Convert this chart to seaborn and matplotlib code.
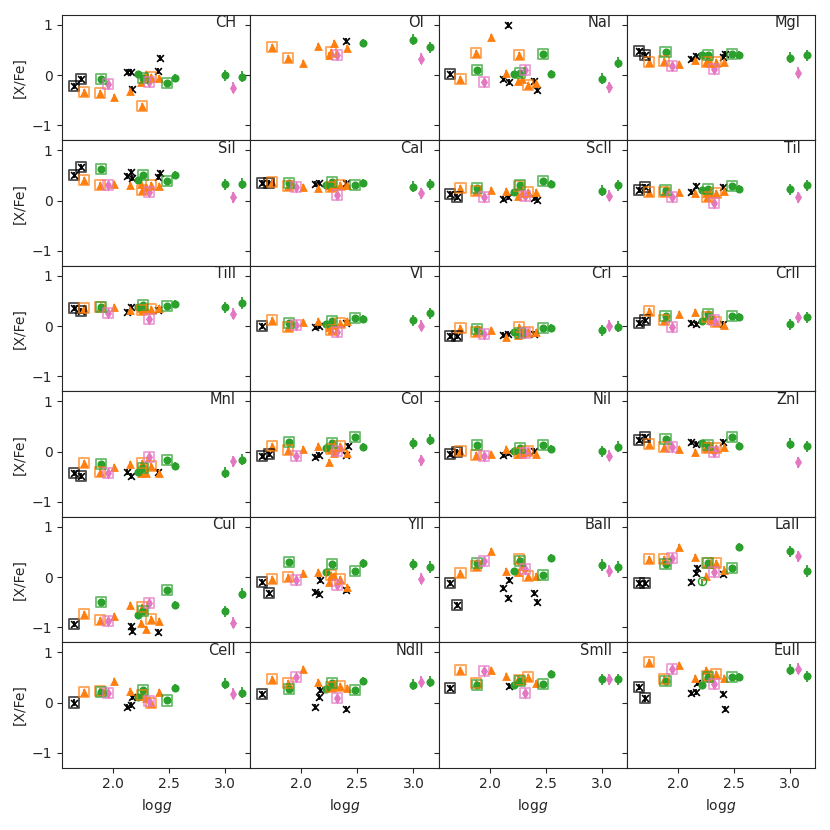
import numpy as np
import pandas as pd
import matplotlib
matplotlib.use('Agg')
import matplotlib.pyplot as plt
import seaborn as sns

nan = np.nan

# stars: surface gravity and sample group (same order in every element list)
logg = [1.65, 1.71, 1.74, 1.88, 1.89, 1.95, 2.01, 2.12, 2.15, 2.16, 2.17, 2.22, 2.25,
        2.26, 2.27, 2.29, 2.32, 2.34, 2.40, 2.41, 2.42, 2.48, 2.55, 3.00, 3.07, 3.15]
group = ['BX', 'BX', 'OB', 'OB', 'GB', 'PB', 'O', 'X', 'O', 'X', 'X', 'G', 'O',
         'OB', 'GB', 'O', 'PB', 'OB', 'X', 'O', 'X', 'GB', 'G', 'G', 'P', 'G']
err = [0.06] * 22 + [0.08, 0.11, 0.11, 0.11]

elements = ['CH', 'OI', 'NaI', 'MgI', 'SiI', 'CaI', 'ScII', 'TiI',
            'TiII', 'VI', 'CrI', 'CrII', 'MnI', 'CoI', 'NiI', 'ZnI',
            'CuI', 'YII', 'BaII', 'LaII', 'CeII', 'NdII', 'SmII', 'EuII']

CH = [-0.22, -0.08, -0.33, -0.36, -0.07, -0.18, -0.44, 0.06, -0.31, 0.07, -0.28, 0.03, -0.13,
      -0.62, -0.05, 0.02, -0.14, -0.03, 0.08, -0.06, 0.35, -0.16, -0.05, 0.00, -0.25, -0.03]
OI = [nan, nan, 0.56, 0.35, nan, nan, 0.24, nan, 0.58, nan, nan, nan, 0.40,
      0.46, nan, 0.64, 0.41, nan, 0.69, 0.54, nan, nan, 0.65, 0.71, 0.33, 0.56]
NaI = [0.02, nan, -0.07, 0.44, 0.10, -0.13, 0.76, -0.08, 0.05, 1.00, -0.13, 0.02, -0.11,
       0.41, 0.04, -0.08, 0.10, -0.20, -0.11, -0.16, -0.29, 0.42, 0.02, -0.07, -0.24, 0.25]
MgI = [0.49, 0.40, 0.27, 0.28, 0.46, 0.18, 0.22, 0.33, 0.30, 0.38, nan, 0.40, 0.26,
       0.26, 0.41, 0.25, 0.12, 0.26, 0.37, 0.26, 0.43, 0.42, 0.40, 0.35, 0.05, 0.40]
SiI = [0.52, 0.67, 0.41, 0.31, 0.64, 0.31, 0.33, 0.50, 0.31, 0.58, 0.46, 0.41, 0.33,
       0.22, 0.52, 0.27, 0.17, 0.31, 0.48, 0.29, 0.56, 0.40, 0.51, 0.33, 0.07, 0.34]
CaI = [0.35, 0.36, 0.38, 0.30, 0.35, 0.27, 0.27, 0.33, 0.26, 0.36, nan, 0.31, 0.31,
       0.27, 0.38, 0.31, 0.12, 0.31, 0.35, 0.31, nan, 0.31, 0.36, 0.28, 0.15, 0.33]
ScII = [0.14, 0.07, 0.25, 0.20, 0.25, 0.08, 0.22, 0.04, 0.20, 0.07, nan, 0.18, 0.10,
        0.29, 0.31, 0.15, 0.10, 0.18, 0.05, 0.18, 0.02, 0.40, 0.33, 0.20, 0.10, 0.31]
TiI = [0.22, 0.27, 0.18, 0.17, 0.22, 0.08, 0.18, 0.17, 0.15, 0.29, nan, 0.22, 0.15,
       0.08, 0.24, 0.16, -0.05, 0.15, 0.27, 0.20, nan, 0.30, 0.24, 0.23, 0.07, 0.31]
TiII = [0.37, 0.31, 0.37, 0.38, 0.39, 0.26, 0.38, 0.29, 0.33, 0.39, nan, 0.39, 0.36,
        0.33, 0.42, 0.35, 0.14, 0.35, 0.33, 0.37, nan, 0.41, 0.44, 0.38, 0.25, 0.46]
VI = [0.00, nan, 0.12, -0.01, 0.07, 0.03, 0.08, -0.01, 0.10, 0.00, nan, 0.05, -0.01,
      -0.07, 0.10, 0.02, -0.11, 0.07, 0.07, 0.10, nan, 0.17, 0.14, 0.12, 0.01, 0.26]
CrI = [-0.19, -0.19, -0.03, -0.11, -0.06, -0.16, -0.07, -0.18, -0.22, -0.16, nan, -0.11, -0.18,
       -0.01, -0.13, -0.13, -0.13, -0.12, -0.16, -0.12, nan, -0.03, -0.03, -0.08, 0.01, -0.01]
CrII = [0.07, 0.13, 0.31, 0.13, 0.20, -0.01, 0.25, 0.07, 0.28, 0.05, nan, 0.10, 0.18,
        0.18, 0.24, 0.12, 0.12, 0.08, 0.04, 0.02, nan, 0.20, 0.18, 0.04, 0.18, 0.18]
MnI = [-0.42, -0.48, -0.22, -0.41, -0.25, -0.43, -0.30, -0.40, -0.24, -0.48, nan, -0.40, -0.42,
       -0.22, -0.33, -0.43, -0.10, -0.29, -0.41, -0.42, nan, -0.17, -0.28, -0.42, -0.19, -0.16]
CoI = [-0.08, -0.05, 0.12, 0.03, 0.19, -0.08, 0.05, -0.10, 0.12, -0.06, nan, 0.07, -0.20,
       0.06, 0.18, -0.02, 0.01, 0.12, -0.07, -0.02, 0.12, 0.30, 0.09, 0.17, -0.17, 0.24]
NiI = [-0.04, -0.01, 0.01, -0.07, 0.14, -0.08, -0.04, -0.06, 0.05, -0.02, nan, 0.01, -0.05,
       -0.03, 0.08, -0.02, -0.02, 0.01, 0.01, -0.04, nan, 0.14, 0.06, 0.01, -0.08, 0.10]
ZnI = [0.24, 0.29, 0.16, 0.09, 0.26, 0.09, 0.06, 0.19, 0.00, 0.16, nan, 0.18, 0.10,
       0.07, 0.14, 0.10, 0.00, 0.07, 0.20, 0.09, nan, 0.30, 0.12, 0.16, -0.21, 0.11]
CuI = [-0.93, nan, -0.73, -0.85, -0.50, -0.88, -0.78, nan, -0.55, -0.98, -1.07, -0.75, -0.91,
       -0.59, -0.67, -1.03, -0.52, -0.83, -1.09, -0.88, nan, -0.25, -0.56, -0.68, -0.91, -0.33]
YII = [-0.09, -0.31, -0.03, 0.01, 0.30, -0.06, 0.08, -0.29, 0.10, -0.34, -0.06, 0.10, -0.09,
       0.04, 0.25, 0.02, -0.16, -0.03, -0.26, -0.20, nan, 0.12, 0.27, 0.25, -0.03, 0.20]
BaII = [-0.12, -0.56, 0.08, 0.22, 0.28, 0.31, 0.51, -0.21, 0.12, -0.42, -0.05, 0.13, 0.10,
        0.36, 0.31, 0.22, 0.16, 0.03, -0.32, 0.03, -0.50, 0.04, 0.38, 0.24, 0.12, 0.20]
LaII = [-0.11, -0.11, 0.36, 0.35, 0.25, 0.37, 0.59, -0.10, 0.39, 0.08, 0.18, -0.09, 0.02,
        0.28, 0.28, 0.25, 0.10, 0.28, 0.07, 0.15, nan, 0.18, 0.59, 0.51, 0.41, 0.12]
CeII = [0.00, nan, 0.21, 0.22, 0.21, 0.19, 0.42, -0.09, 0.22, -0.05, 0.10, 0.10, 0.12,
        0.14, 0.24, 0.09, 0.03, -0.01, nan, 0.21, nan, 0.04, 0.29, 0.37, 0.17, 0.19]
NdII = [0.17, nan, 0.47, 0.39, 0.26, 0.50, 0.67, -0.08, 0.41, 0.10, 0.25, 0.26, 0.35,
        0.30, 0.39, 0.34, 0.09, 0.32, -0.12, 0.29, nan, 0.24, 0.42, 0.35, 0.41, 0.41]
SmII = [0.29, nan, 0.65, 0.39, 0.35, 0.63, 0.65, nan, 0.52, nan, 0.32, 0.35, 0.47,
        0.45, 0.42, 0.45, 0.19, 0.50, nan, 0.39, nan, 0.37, 0.56, 0.46, 0.46, 0.46]
EuII = [0.30, 0.08, 0.81, 0.47, 0.43, 0.67, 0.75, 0.18, 0.49, 0.21, 0.39, 0.34, 0.65,
        0.52, 0.51, 0.49, 0.37, 0.56, 0.17, 0.49, -0.12, 0.50, 0.51, 0.65, 0.67, 0.52]

abund = dict(CH=CH, OI=OI, NaI=NaI, MgI=MgI, SiI=SiI, CaI=CaI, ScII=ScII, TiI=TiI,
             TiII=TiII, VI=VI, CrI=CrI, CrII=CrII, MnI=MnI, CoI=CoI, NiI=NiI, ZnI=ZnI,
             CuI=CuI, YII=YII, BaII=BaII, LaII=LaII, CeII=CeII, NdII=NdII, SmII=SmII, EuII=EuII)

# the one open (hollow) point
hollow = [('LaII', 2.22)]

# group -> (colour, marker, boxed)
styles = {
    'BX': ('black', 'x', True),
    'X': ('black', 'x', False),
    'OB': ('tab:orange', '^', True),
    'O': ('tab:orange', '^', False),
    'GB': ('tab:green', 'o', True),
    'G': ('tab:green', 'o', False),
    'PB': ('tab:pink', 'd', True),
    'P': ('tab:pink', 'd', False),
}
sizes = {'x': 24, '^': 40, 'o': 34, 'd': 36}

rows = []
for el in elements:
    for lg, grp, e, v in zip(logg, group, err, abund[el]):
        if not np.isnan(v):
            rows.append((el, lg, v, e, grp))
df = pd.DataFrame(rows, columns=['element', 'logg', 'xfe', 'err', 'group'])

sns.set_style('ticks')
plt.rcParams['font.family'] = ['DejaVu Sans']

fig, axes = plt.subplots(6, 4, figsize=(8.3, 8.3), dpi=100, sharex=True, sharey=True)
fig.subplots_adjust(left=0.075, right=0.982, top=0.982, bottom=0.075, wspace=0, hspace=0)

for ax, el in zip(axes.flat, elements):
    sub = df[df['element'] == el]
    for grp, (col, mk, boxed) in styles.items():
        d = sub[sub['group'] == grp]
        if d.empty:
            continue
        ax.errorbar(d['logg'], d['xfe'], yerr=d['err'], fmt='none',
                    ecolor=col, elinewidth=1.3, capsize=0, zorder=2)
        is_hollow = np.array([(el, lg) in hollow for lg in d['logg']])
        solid = d[~is_hollow]
        if mk == 'x':
            sns.scatterplot(data=solid, x='logg', y='xfe', ax=ax, marker='x', color=col,
                            s=sizes[mk], linewidth=1.2, legend=False, zorder=3)
        else:
            sns.scatterplot(data=solid, x='logg', y='xfe', ax=ax, marker=mk, color=col,
                            s=sizes[mk], linewidth=0, legend=False, zorder=3)
        if is_hollow.any():
            sns.scatterplot(data=d[is_hollow], x='logg', y='xfe', ax=ax, marker=mk,
                            facecolor='none', edgecolor=col, s=sizes[mk], linewidth=1.0,
                            legend=False, zorder=3)
        if boxed:
            sns.scatterplot(data=d, x='logg', y='xfe', ax=ax, marker='s', facecolor='none',
                            edgecolor=col, s=52, linewidth=1.3, alpha=0.7,
                            legend=False, zorder=4)
    ax.text(0.922, 0.936, el, transform=ax.transAxes, ha='right', va='center', fontsize=10.5)
    ax.set_xlabel('')
    ax.set_ylabel('')

for ax in axes.flat:
    ax.set_xlim(1.545, 3.225)
    ax.set_ylim(-1.3, 1.2)
    ax.set_xticks([2.0, 2.5, 3.0])
    ax.set_yticks([-1, 0, 1])
    ax.tick_params(labelsize=10)

for ax in axes[:, 0]:
    ax.set_ylabel('[X/Fe]', fontsize=10)
for ax in axes[-1, :]:
    ax.set_xlabel(r'log$g$', fontsize=10)

fig.savefig('out.png', dpi=100)
